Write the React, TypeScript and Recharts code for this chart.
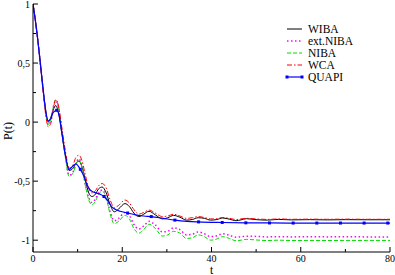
import React from 'react';
import { LineChart, Line, XAxis, YAxis, Legend } from 'recharts';

// time grid for the analytic curves
const T = [0, 0.5, 1, 1.5, 2, 2.5, 3, 3.4, 4, 4.5, 5.1, 5.7, 6.4, 7.2, 8.1, 9, 9.6, 10.3, 11, 11.8, 12.5, 13.2, 14, 14.7, 15.5, 16.3, 17.3, 18.2, 19.2, 20.6, 21.6, 22.6, 23.7, 24.8, 26, 27.4, 29, 30.2, 31.5, 32.9, 34.4, 35.7, 37, 38.4, 39.8, 41.2, 42.5, 44, 45.5, 46.6, 47.8, 50, 52.5, 55, 58, 62, 66, 70, 75, 80];

const WIBA = [1, 0.87, 0.72, 0.55, 0.37, 0.2, 0.06, 0.0, 0.04, 0.1, 0.14, 0.08, -0.08, -0.27, -0.41, -0.39, -0.35, -0.33, -0.38, -0.5, -0.6, -0.63, -0.61, -0.565, -0.55, -0.59, -0.7, -0.76, -0.735, -0.69, -0.715, -0.77, -0.8, -0.78, -0.755, -0.785, -0.82, -0.81, -0.79, -0.805, -0.83, -0.825, -0.81, -0.815, -0.83, -0.825, -0.812, -0.822, -0.835, -0.828, -0.818, -0.826, -0.83, -0.824, -0.828, -0.826, -0.828, -0.826, -0.827, -0.827];

const EXT_NIBA = [1, 0.87, 0.72, 0.55, 0.37, 0.19, 0.04, -0.02, 0.02, 0.12, 0.18, 0.13, -0.05, -0.27, -0.45, -0.42, -0.35, -0.31, -0.38, -0.54, -0.64, -0.68, -0.65, -0.6, -0.575, -0.615, -0.76, -0.835, -0.815, -0.765, -0.79, -0.865, -0.905, -0.88, -0.84, -0.87, -0.93, -0.925, -0.895, -0.91, -0.955, -0.95, -0.93, -0.945, -0.97, -0.962, -0.945, -0.958, -0.975, -0.972, -0.966, -0.968, -0.972, -0.97, -0.972, -0.971, -0.972, -0.971, -0.972, -0.972];

const NIBA = [1, 0.87, 0.72, 0.55, 0.37, 0.19, 0.04, -0.02, 0.02, 0.12, 0.19, 0.13, -0.06, -0.28, -0.46, -0.43, -0.36, -0.32, -0.39, -0.55, -0.66, -0.7, -0.67, -0.61, -0.585, -0.63, -0.78, -0.86, -0.84, -0.79, -0.82, -0.9, -0.94, -0.91, -0.865, -0.9, -0.965, -0.955, -0.925, -0.94, -0.985, -0.98, -0.955, -0.97, -1.0, -0.99, -0.97, -0.985, -1.005, -1.0, -0.993, -0.998, -1.003, -1.0, -1.003, -1.002, -1.003, -1.002, -1.002, -1.002];

const WCA = [1, 0.87, 0.72, 0.54, 0.36, 0.18, 0.02, -0.04, -0.01, 0.1, 0.19, 0.14, -0.03, -0.23, -0.39, -0.36, -0.3, -0.28, -0.33, -0.46, -0.56, -0.6, -0.58, -0.54, -0.52, -0.55, -0.66, -0.725, -0.705, -0.66, -0.685, -0.74, -0.78, -0.765, -0.745, -0.77, -0.8, -0.795, -0.78, -0.795, -0.815, -0.81, -0.8, -0.808, -0.82, -0.818, -0.808, -0.815, -0.825, -0.82, -0.815, -0.82, -0.824, -0.82, -0.823, -0.822, -0.823, -0.822, -0.823, -0.823];

const QUAPI_T = [0, 0.5, 1, 1.5, 2, 2.5, 3, 3.4, 4, 4.5, 5.3, 5.9, 6.5, 7.2, 8.1, 9, 9.6, 10.6, 11.3, 12, 12.7, 13.4, 14.2, 15, 15.9, 16.8, 17.7, 18.5, 19.5, 21.2, 23, 24.8, 26.5, 29.2, 31.8, 34.5, 37.1, 42.4, 47.7, 53, 58.3, 63.6, 68.9, 74.2, 79.5, 80];
const QUAPI = [1, 0.87, 0.72, 0.55, 0.37, 0.2, 0.06, 0.01, 0.03, 0.08, 0.1, 0.05, -0.1, -0.27, -0.4, -0.37, -0.355, -0.4, -0.45, -0.52, -0.57, -0.59, -0.6, -0.61, -0.63, -0.67, -0.72, -0.74, -0.755, -0.77, -0.785, -0.795, -0.8, -0.815, -0.83, -0.84, -0.845, -0.85, -0.853, -0.854, -0.855, -0.855, -0.855, -0.855, -0.855, -0.855];
const QUAPI_MARKS = [5.3, 10.6, 15.9, 21.2, 26.5, 31.8, 37.1, 42.4, 47.7, 53, 58.3, 63.6, 68.9, 74.2, 79.5];

const X_TICKS = [0, 10, 20, 30, 40, 50, 60, 70, 80];
const X_LABELS = [0, 20, 40, 60, 80];
const Y_TICKS = [-1, -0.75, -0.5, -0.25, 0, 0.25, 0.5, 0.75, 1];
const Y_LABELS = [-1, -0.5, 0, 0.5, 1];

const zip = (ts: number[], vs: number[]) => ts.map((t, i) => ({ t, v: vs[i] }));

const FONT = '"Liberation Serif", "Times New Roman", Times, serif';
const TXT: React.CSSProperties = { fontFamily: FONT };
const fmtY = (v: number) => String(v).replace('.', ',');

const SERIES = [
  { name: 'WIBA', data: zip(T, WIBA), color: '#000000', dash: undefined as string | undefined, width: 1 },
  { name: 'ext.NIBA', data: zip(T, EXT_NIBA), color: '#ff00ff', dash: '1.5 2.5', width: 1.5 },
  { name: 'NIBA', data: zip(T, NIBA), color: '#00dd00', dash: '4 2', width: 1 },
  { name: 'WCA', data: zip(T, WCA), color: '#ff0000', dash: '5 2 1.5 2', width: 1 },
  { name: 'QUAPI', data: zip(QUAPI_T, QUAPI), color: '#0000ff', dash: undefined as string | undefined, width: 1.2 },
];

function BottomTick(props: any) {
  const { x, y, payload } = props;
  const major = X_LABELS.includes(payload.value);
  return (
    <g>
      <line x1={x} x2={x} y1={y} y2={y - (major ? 5 : 3)} stroke="#000" />
      {major && (
        <text x={x} y={y + 9.5} textAnchor="middle" fontSize={10} style={TXT} fill="#000">
          {payload.value}
        </text>
      )}
    </g>
  );
}
function TopTick(props: any) {
  const { x, y, payload } = props;
  const major = X_LABELS.includes(payload.value);
  return <line x1={x} x2={x} y1={y} y2={y + (major ? 5 : 3)} stroke="#000" />;
}
function LeftTick(props: any) {
  const { x, y, payload } = props;
  const major = Y_LABELS.includes(payload.value);
  return (
    <g>
      <line x1={x} x2={x + (major ? 5 : 3)} y1={y} y2={y} stroke="#000" />
      {major && (
        <text x={x - 3} y={y + 3.5} textAnchor="end" fontSize={10} style={TXT} fill="#000">
          {fmtY(payload.value)}
        </text>
      )}
    </g>
  );
}
function RightTick(props: any) {
  const { x, y, payload } = props;
  const major = Y_LABELS.includes(payload.value);
  return <line x1={x} x2={x - (major ? 5 : 3)} y1={y} y2={y} stroke="#000" />;
}

function QuapiDot(props: any) {
  const { cx, cy, payload, index } = props;
  if (!QUAPI_MARKS.includes(payload.t)) return <g key={`qd${index}`} />;
  return <rect key={`qd${index}`} x={cx - 1.5} y={cy - 1.5} width={3} height={3} fill="#0000ff" />;
}

function LegendBox() {
  return (
    <svg width={100} height={70} style={{ display: 'block' }}>
      {SERIES.map((s, i) => {
        const y = 9 + i * 12;
        return (
          <g key={s.name}>
            <line x1={4} x2={19} y1={y} y2={y} stroke={s.color} strokeWidth={s.width} strokeDasharray={s.dash} />
            {s.name === 'QUAPI' && (
              <>
                <rect x={2.5} y={y - 1.5} width={3} height={3} fill={s.color} />
                <rect x={17.5} y={y - 1.5} width={3} height={3} fill={s.color} />
              </>
            )}
            <text x={25} y={y + 4} fontSize={11.5} style={TXT} fill="#000">
              {s.name}
            </text>
          </g>
        );
      })}
    </svg>
  );
}

export default function App() {
  return (
    <div style={{ position: 'absolute', left: 0, top: 0, background: '#fff' }}>
      <LineChart width={395} height={275} margin={{ top: 4, right: 5, bottom: 0, left: 0 }}>
        <XAxis
          xAxisId="b"
          dataKey="t"
          type="number"
          domain={[0, 80]}
          ticks={X_TICKS}
          interval={0}
          tickSize={0}
          tickMargin={0}
          tickLine={false}
          tick={BottomTick}
          axisLine={{ stroke: '#000' }}
          height={23}
          allowDataOverflow
          label={{
            content: (p: any) => {
              const vb = p.viewBox;
              return (
                <text x={vb.x + vb.width / 2} y={vb.y + 21.5} textAnchor="middle" fontSize={11.5} style={TXT} fill="#000">
                  t
                </text>
              );
            },
          }}
        />
        <XAxis
          xAxisId="top"
          orientation="top"
          dataKey="t"
          type="number"
          domain={[0, 80]}
          ticks={X_TICKS}
          interval={0}
          tickSize={0}
          tickMargin={0}
          tickLine={false}
          tick={TopTick}
          axisLine={{ stroke: '#000' }}
          height={0}
          allowDataOverflow
        />
        <YAxis
          yAxisId="l"
          type="number"
          domain={[-1.1, 1]}
          ticks={Y_TICKS}
          interval={0}
          tickSize={0}
          tickMargin={0}
          tickLine={false}
          tick={LeftTick}
          axisLine={{ stroke: '#000' }}
          width={33}
          allowDataOverflow
          label={{
            content: (p: any) => {
              const vb = p.viewBox;
              const cx = vb.x + 8;
              const cy = vb.y + vb.height / 2 + 3;
              return (
                <text x={cx} y={cy} transform={`rotate(-90, ${cx}, ${cy})`} textAnchor="middle" dominantBaseline="central" fontSize={12} style={TXT} fill="#000">
                  P(t)
                </text>
              );
            },
          }}
        />
        <YAxis
          yAxisId="r"
          orientation="right"
          type="number"
          domain={[-1.1, 1]}
          ticks={Y_TICKS}
          interval={0}
          tickSize={0}
          tickMargin={0}
          tickLine={false}
          tick={RightTick}
          axisLine={{ stroke: '#000' }}
          width={0}
          allowDataOverflow
        />
        {SERIES.map((s) => (
          <Line
            key={s.name}
            name={s.name}
            data={s.data}
            dataKey="v"
            xAxisId="b"
            yAxisId="l"
            type="monotone"
            stroke={s.color}
            strokeWidth={s.width}
            strokeDasharray={s.dash}
            dot={s.name === 'QUAPI' ? QuapiDot : false}
            activeDot={false}
            isAnimationActive={false}
          />
        ))}
        <Legend
          layout="vertical"
          align="center"
          verticalAlign="middle"
          wrapperStyle={{ left: 283, top: 20, width: 100, height: 70 }}
          content={() => <LegendBox />}
        />
      </LineChart>
    </div>
  );
}
